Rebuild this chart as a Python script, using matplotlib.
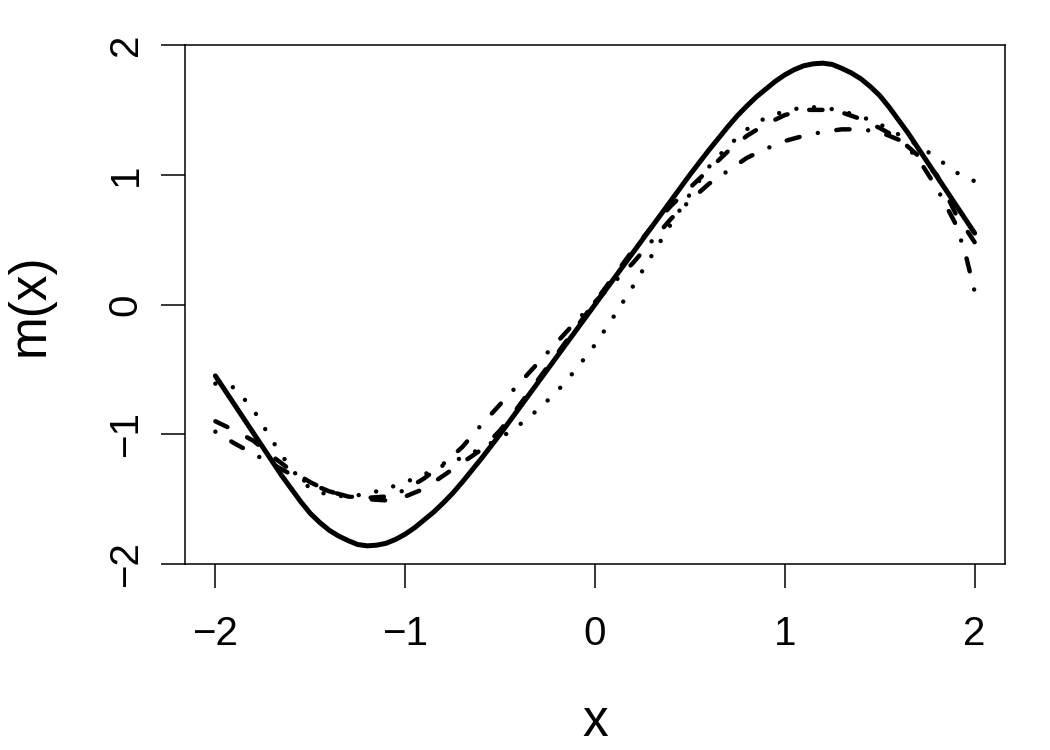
import numpy as np
import matplotlib
matplotlib.use("Agg")
import matplotlib.pyplot as plt

plt.rcParams['font.family'] = ['Liberation Sans', 'DejaVu Sans']

# true regression function (solid), read every 0.05
x_true = np.round(np.arange(-2.0, 2.0001, 0.05), 2)
m_true = [-0.55, -0.66, -0.77, -0.88, -0.99, -1.10, -1.21, -1.32, -1.42, -1.52,
          -1.61, -1.68, -1.74, -1.785, -1.82, -1.85, -1.86, -1.855, -1.84, -1.81,
          -1.77, -1.72, -1.66, -1.60, -1.53, -1.455, -1.37, -1.28, -1.19, -1.095,
          -1.00, -0.90, -0.80, -0.70, -0.60, -0.50, -0.40, -0.30, -0.20, -0.10,
          0.00,
          0.10, 0.20, 0.30, 0.40, 0.50, 0.60, 0.70, 0.80, 0.90, 1.00,
          1.095, 1.19, 1.28, 1.37, 1.455, 1.53, 1.60, 1.66, 1.72, 1.77,
          1.81, 1.84, 1.855, 1.86, 1.85, 1.82, 1.785, 1.74, 1.68, 1.61,
          1.52, 1.42, 1.32, 1.21, 1.10, 0.99, 0.88, 0.77, 0.66, 0.55]

# the estimates, read every 0.1
x = np.round(np.arange(-2.0, 2.0001, 0.1), 2)

# estimate 1 (dashed)
m_dashed = [-0.90, -0.97, -1.05, -1.17, -1.28, -1.37, -1.44, -1.48, -1.50, -1.51,
            -1.48, -1.42, -1.32, -1.22, -1.12, -0.97, -0.78, -0.58, -0.38, -0.18,
            0.02, 0.22, 0.42, 0.60, 0.76, 0.90, 1.04, 1.18, 1.30, 1.39,
            1.46, 1.50, 1.50, 1.48, 1.43, 1.36, 1.28, 1.15, 1.00, 0.70, 0.48]

# estimate 2 (dotted)
m_dotted = [-0.61, -0.64, -0.81, -1.05, -1.27, -1.42, -1.47, -1.48, -1.46, -1.42,
            -1.37, -1.31, -1.24, -1.18, -1.11, -1.03, -0.93, -0.81, -0.67, -0.50,
            -0.31, -0.09, 0.14, 0.38, 0.62, 0.85, 1.06, 1.22, 1.35, 1.44,
            1.49, 1.52, 1.52, 1.49, 1.45, 1.39, 1.31, 1.23, 1.13, 1.02, 0.95]

# estimate 3 (dot-dash), one extra reading near the right end
x_dd = np.append(x[:-1], [1.95, 2.0])
m_dotdash = [-0.98, -1.07, -1.15, -1.23, -1.31, -1.38, -1.44, -1.48, -1.49, -1.48,
             -1.43, -1.34, -1.23, -1.10, -0.93, -0.77, -0.61, -0.45, -0.29, -0.13,
             0.02, 0.17, 0.32, 0.49, 0.66, 0.80, 0.93, 1.03, 1.13, 1.20,
             1.26, 1.30, 1.33, 1.35, 1.35, 1.33, 1.27, 1.13, 0.90, 0.62, 0.40, 0.10]

fig = plt.figure(figsize=(10.5, 7.5), dpi=100)
ax = fig.add_axes([185/1050, 1-564/750, 820/1050, 519/750])

ax.plot(x_true, m_true, color='black', lw=3.6, solid_capstyle='round',
        solid_joinstyle='round')
ax.plot(x, m_dashed, color='black', lw=3.2, dash_capstyle='round',
        linestyle=(0, (3.0, 5.0)))
ax.plot(x, m_dotted, color='black', lw=3.2, dash_capstyle='round',
        linestyle=(0, (0.01, 4.0)))
ax.plot(x_dd, m_dotdash, color='black', lw=3.2, dash_capstyle='round',
        linestyle=(0, (0.01, 4.2, 3.0, 4.2)))

ax.set_xlim(-2.16, 2.16)
ax.set_ylim(-2, 2)
ax.set_xticks([-2, -1, 0, 1, 2])
ax.set_yticks([-2, -1, 0, 1, 2])
ax.tick_params(axis='both', direction='out', length=17, width=1.1,
               labelsize=29, color='black')
ax.tick_params(axis='x', pad=20)
ax.tick_params(axis='y', pad=12)
for lab in ax.get_yticklabels():
    lab.set_rotation(90)
    lab.set_va('center')
for sp in ax.spines.values():
    sp.set_linewidth(1.1)

ax.set_xlabel('x', fontsize=37)
ax.set_ylabel('m(x)', fontsize=37)
ax.xaxis.set_label_coords(0.5, -0.306)
ax.xaxis.label.set_va('center')
ax.yaxis.set_label_coords(-0.189, 0.5)
ax.yaxis.label.set_va('center')

fig.savefig('out.png', dpi=100)
